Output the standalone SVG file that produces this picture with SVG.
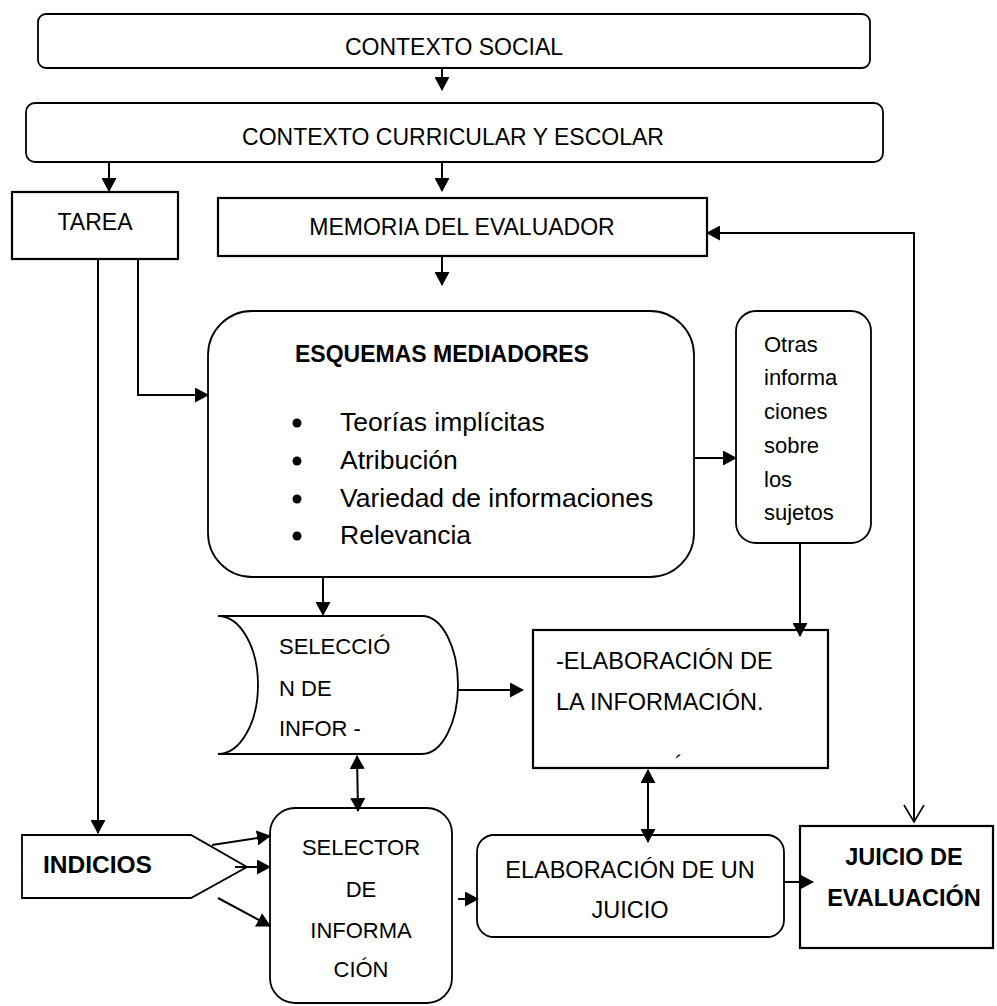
<svg xmlns="http://www.w3.org/2000/svg" width="997" height="1006" viewBox="0 0 997 1006">
<defs>
<style>
.box{fill:#fff;stroke:#000;stroke-width:2.2}
.rbox{fill:#fff;stroke:#000;stroke-width:1.8}
.t{font-family:"Liberation Sans",Arial,sans-serif;font-size:23px;fill:#000}
.c{text-anchor:middle}
.b{font-weight:bold}
.s22{font-size:22px}
.s26{font-size:26.5px}
.ln{fill:none;stroke:#000;stroke-width:2}
</style>
<marker id="ah" viewBox="0 0 14 15" markerWidth="14" markerHeight="15" markerUnits="userSpaceOnUse" refX="13" refY="7.5" orient="auto-start-reverse"><path d="M0,0 L14,7.5 L0,15 z" fill="#000"/></marker>
<marker id="oh" viewBox="0 0 20 22" markerWidth="20" markerHeight="22" markerUnits="userSpaceOnUse" refX="18" refY="11" orient="auto-start-reverse"><path d="M1,1 L18,11 L1,21" fill="none" stroke="#000" stroke-width="1.6"/></marker>
</defs>
<rect width="997" height="1006" fill="#fff"/>

<g id="contexto-social">
<rect class="rbox" x="38" y="14" width="832" height="54" rx="8"/>
<text class="t c" x="454" y="55">CONTEXTO SOCIAL</text>
</g>
<g id="contexto-curricular">
<rect class="rbox" x="26" y="103" width="857" height="59" rx="9"/>
<text class="t c" x="453" y="145">CONTEXTO CURRICULAR Y ESCOLAR</text>
</g>
<g id="tarea">
<rect class="box" x="12" y="192" width="166" height="67"/>
<text class="t c" x="95" y="230">TAREA</text>
</g>
<g id="memoria">
<rect class="box" x="218" y="198" width="489" height="58"/>
<text class="t c" x="462" y="235">MEMORIA DEL EVALUADOR</text>
</g>
<g id="esquemas">
<rect class="rbox" x="208" y="311" width="486" height="266" rx="44"/>
<text class="t b" x="295" y="362">ESQUEMAS MEDIADORES</text>
<circle cx="297" cy="423" r="4.5"/>
<circle cx="297" cy="461" r="4.5"/>
<circle cx="297" cy="499" r="4.5"/>
<circle cx="297" cy="536" r="4.5"/>
<text class="t s26" x="340" y="431">Teorías implícitas</text>
<text class="t s26" x="340" y="469">Atribución</text>
<text class="t s26" x="340" y="507">Variedad de informaciones</text>
<text class="t s26" x="340" y="544">Relevancia</text>
</g>
<g id="otras">
<rect class="rbox" x="736" y="311" width="135" height="232" rx="20"/>
<text class="t s22" x="764" y="352">Otras</text>
<text class="t s22" x="764" y="385">informa</text>
<text class="t s22" x="764" y="419">ciones</text>
<text class="t s22" x="764" y="453">sobre</text>
<text class="t s22" x="764" y="487">los</text>
<text class="t s22" x="764" y="520">sujetos</text>
</g>
<g id="seleccion">
<path class="rbox" d="M218,616 H422 A36,69 0 0 1 422,754 H218 A40,69 0 0 0 218,616 Z"/>
<text class="t s22" x="279" y="654">SELECCIÓ</text>
<text class="t s22" x="279" y="696">N DE</text>
<text class="t s22" x="279" y="736">INFOR -</text>
</g>
<g id="elaboracion-info">
<rect class="box" x="533" y="630" width="295" height="138"/>
<text class="t" x="556" y="669" style="font-size:23.5px">-ELABORACIÓN DE</text>
<text class="t" x="556" y="710" style="font-size:23.5px">LA INFORMACIÓN.</text>
<text class="t" x="675" y="772">´</text>
</g>
<g id="indicios">
<polygon class="rbox" points="22,835 191,835 247,867 191,898 22,898"/>
<text class="t b" x="43" y="873" style="font-size:24.5px">INDICIOS</text>
</g>
<g id="selector">
<rect class="rbox" x="270" y="808" width="182" height="195" rx="25"/>
<text class="t c s22" x="361" y="855">SELECTOR</text>
<text class="t c s22" x="361" y="897">DE</text>
<text class="t c s22" x="361" y="938">INFORMA</text>
<text class="t c s22" x="361" y="977">CIÓN</text>
</g>
<g id="elaboracion-juicio">
<rect class="rbox" x="477" y="835" width="307" height="102" rx="17"/>
<text class="t c" x="630" y="878" style="font-size:23.5px">ELABORACIÓN DE UN</text>
<text class="t c" x="630" y="918" style="font-size:23.5px">JUICIO</text>
</g>
<g id="juicio">
<rect class="box" x="800" y="826" width="193" height="122"/>
<text class="t c b" x="904" y="865" style="font-size:23.5px">JUICIO DE</text>
<text class="t c b" x="904" y="906" style="font-size:23.5px">EVALUACIÓN</text>
</g>

<g id="connectors" class="ln">
<path d="M442,68 V90" marker-end="url(#ah)"/>
<path d="M109,162 V191" marker-end="url(#ah)"/>
<path d="M442,162 V191" marker-end="url(#ah)"/>
<path d="M442,256 V285" marker-end="url(#ah)"/>
<path d="M138,259 V395 H208" marker-end="url(#ah)"/>
<path d="M98,259 V833" marker-end="url(#ah)"/>
<path d="M694,458 H736" marker-end="url(#ah)"/>
<path d="M323,577 V615" marker-end="url(#ah)"/>
<path d="M800,543 V636" marker-end="url(#ah)"/>
<path d="M458,690 H523" marker-end="url(#ah)"/>
<path d="M357,756 L358,811" marker-start="url(#ah)" marker-end="url(#ah)"/>
<path d="M648,770 V842" marker-start="url(#ah)" marker-end="url(#ah)"/>
<path d="M212,845 L270,836" marker-end="url(#ah)"/>
<path d="M235,867 H270" marker-end="url(#ah)"/>
<path d="M218,898 L270,926" marker-end="url(#ah)"/>
<path d="M458,899 H478" marker-end="url(#ah)"/>
<path d="M784,882 H813" marker-end="url(#ah)"/>
<path d="M914,822 V233 H707" marker-start="url(#oh)" marker-end="url(#ah)"/>
</g>
</svg>
